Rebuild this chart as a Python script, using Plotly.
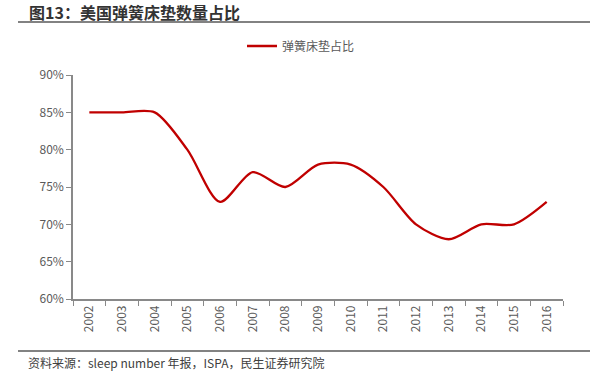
import plotly.graph_objects as go

years = ["2002", "2003", "2004", "2005", "2006", "2007", "2008", "2009",
         "2010", "2011", "2012", "2013", "2014", "2015", "2016"]
share = [85, 85, 85, 80, 73, 77, 75, 78, 78, 75, 70, 68, 70, 70, 73]
series_name = "弹簧床垫占比"
y_ticks = [60, 65, 70, 75, 80, 85, 90]
y_labels = ["60%", "65%", "70%", "75%", "80%", "85%", "90%"]

FONT = "Noto Sans CJK SC"
GREY = "#595959"

fig = go.Figure()
fig.add_trace(go.Scatter(
    x=years, y=share, name=series_name, mode="lines",
    line=dict(color="#C00000", width=2.3, shape="spline", smoothing=0.8),
    showlegend=True,
))

fig.update_layout(
    width=602, height=386,
    margin=dict(l=73, r=39, t=75, b=87, autoexpand=False),
    paper_bgcolor="white", plot_bgcolor="white",
    font=dict(family=FONT, size=12, color=GREY),
    showlegend=True,
    legend=dict(orientation="h", xref="container", yref="container",
                x=0.5, xanchor="center", y=1 - 46 / 386, yanchor="middle",
                bgcolor="rgba(0,0,0,0)",
                font=dict(family=FONT, size=12, color=GREY)),
    xaxis=dict(
        type="category", showgrid=False, showline=True, linecolor="#898989", linewidth=1.5,
        ticks="outside", ticklen=5, tickcolor="#898989", tickson="boundaries",
        tickangle=-90, tickfont=dict(family=FONT, size=12, color=GREY),
        range=[-0.5, 14.5], automargin=False,
    ),
    yaxis=dict(
        range=[60, 90], tickvals=y_ticks, ticktext=y_labels, showgrid=False,
        showline=True, linecolor="#898989", linewidth=1.5,
        ticks="outside", ticklen=5, tickcolor="#898989",
        tickfont=dict(family=FONT, size=12, color=GREY), zeroline=False,
        automargin=False,
    ),
)

# Title and source
fig.add_annotation(text="<b>图13：美国弹簧床垫数量占比</b>", xref="paper", yref="paper",
                   x=(27 - 73) / 490, y=1 + (75 - 12) / 224, xanchor="left", yanchor="middle",
                   showarrow=False, font=dict(family=FONT, size=16, color="#333333"))
fig.add_annotation(text="资料来源：sleep number 年报，ISPA，民生证券研究院", xref="paper", yref="paper",
                   x=(26 - 73) / 490, y=-(362 - 299) / 224, xanchor="left", yanchor="middle",
                   showarrow=False, font=dict(family=FONT, size=12, color="#404040"))

fig.add_shape(type="line", xref="paper", yref="paper",
              x0=(18 - 73) / 490, x1=(590 - 73) / 490,
              y0=1 + (75 - 22) / 224, y1=1 + (75 - 22) / 224,
              line=dict(color="#595959", width=1.5))
fig.add_shape(type="line", xref="paper", yref="paper",
              x0=(18 - 73) / 490, x1=(590 - 73) / 490,
              y0=-(351 - 299) / 224, y1=-(351 - 299) / 224,
              line=dict(color="#595959", width=1.5))

fig.write_html("out.html", config={"displayModeBar": False},
               post_script="document.body.style.margin='0';document.body.style.overflow='hidden';")
